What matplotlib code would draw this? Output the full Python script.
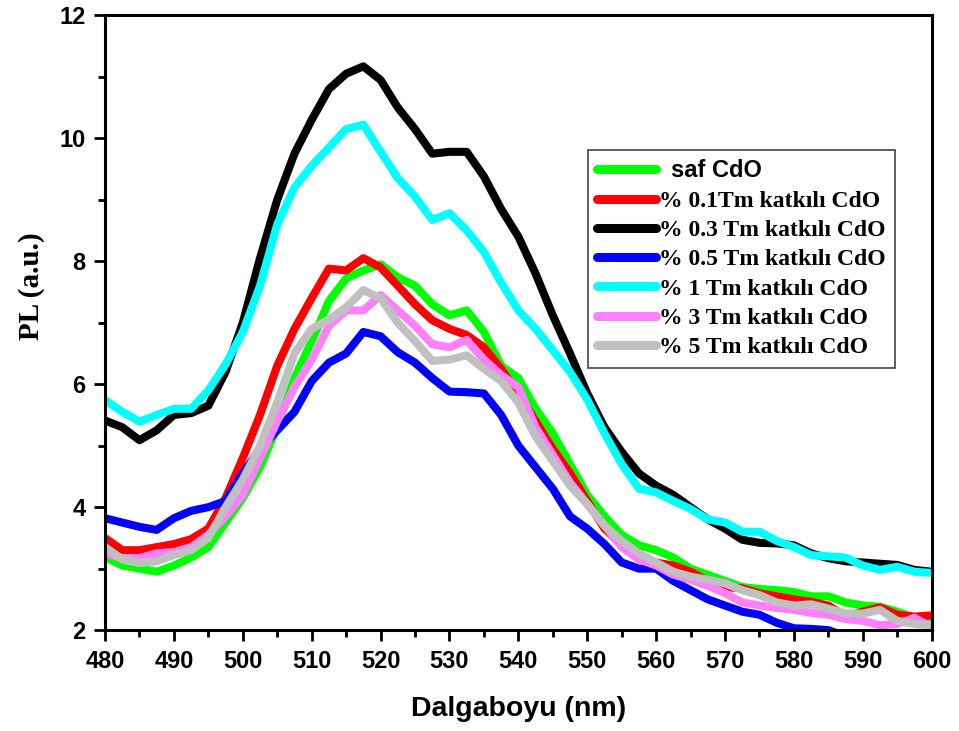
import numpy as np
import matplotlib
matplotlib.use("Agg")
import matplotlib.pyplot as plt
from matplotlib.ticker import MultipleLocator
from matplotlib import font_manager

plt.rcParams["font.family"] = ["Liberation Sans", "DejaVu Sans"]
plt.rcParams["font.weight"] = "bold"

# wavelength grid (nm)
wl = np.arange(480, 600.1, 2.5)

saf = [3.19, 3.05, 3.0, 2.95, 3.05, 3.18, 3.35, 3.75, 4.15, 4.65, 5.3, 6.1, 6.7,
       7.35, 7.72, 7.85, 7.95, 7.74, 7.6, 7.3, 7.12, 7.2, 6.85, 6.3, 6.1, 5.6,
       5.2, 4.7, 4.2, 3.85, 3.55, 3.38, 3.3, 3.18, 3.0, 2.9, 2.8, 2.7, 2.67,
       2.65, 2.62, 2.55, 2.55, 2.45, 2.4, 2.38, 2.3, 2.2, 2.16]
tm01 = [3.5, 3.3, 3.3, 3.35, 3.4, 3.48, 3.65, 4.15, 4.8, 5.5, 6.3, 6.9, 7.4,
        7.88, 7.85, 8.05, 7.9, 7.6, 7.3, 7.04, 6.9, 6.8, 6.6, 6.25, 5.85, 5.4,
        4.95, 4.55, 4.1, 3.65, 3.4, 3.15, 3.1, 3.05, 2.95, 2.8, 2.7, 2.68, 2.6,
        2.55, 2.5, 2.46, 2.4, 2.22, 2.3, 2.37, 2.25, 2.22, 2.24]
tm03 = [5.41, 5.3, 5.09, 5.25, 5.5, 5.53, 5.65, 6.2, 7.0, 8.05, 9.0, 9.75, 10.3,
        10.8, 11.05, 11.17, 10.95, 10.5, 10.15, 9.75, 9.78, 9.78, 9.38, 8.85,
        8.4, 7.8, 7.12, 6.5, 5.85, 5.3, 4.9, 4.55, 4.35, 4.2, 4.0, 3.8, 3.65,
        3.47, 3.42, 3.41, 3.38, 3.25, 3.17, 3.12, 3.1, 3.08, 3.06, 2.98, 2.95]
tm05 = [3.82, 3.75, 3.68, 3.63, 3.82, 3.94, 4.0, 4.1, 4.55, 4.95, 5.25, 5.55,
        6.05, 6.35, 6.5, 6.85, 6.78, 6.52, 6.35, 6.1, 5.88, 5.87, 5.85, 5.5,
        5.0, 4.65, 4.3, 3.85, 3.65, 3.4, 3.1, 3.0, 3.0, 2.8, 2.65, 2.5, 2.4,
        2.3, 2.25, 2.12, 2.03, 2.02, 2.0, 1.9, 1.85, 1.8, 1.8, 1.75, 1.75]
tm1 = [5.74, 5.55, 5.39, 5.5, 5.6, 5.6, 5.9, 6.32, 6.85, 7.6, 8.6, 9.2, 9.55,
       9.85, 10.15, 10.22, 9.78, 9.35, 9.05, 8.67, 8.78, 8.5, 8.15, 7.65, 7.2,
       6.9, 6.55, 6.2, 5.75, 5.2, 4.7, 4.3, 4.24, 4.1, 3.97, 3.8, 3.75, 3.6,
       3.6, 3.45, 3.35, 3.22, 3.2, 3.18, 3.05, 2.98, 3.03, 2.95, 2.93]
tm3 = [3.25, 3.17, 3.17, 3.25, 3.27, 3.35, 3.55, 3.85, 4.2, 4.8, 5.4, 5.95, 6.4,
       6.95, 7.2, 7.2, 7.45, 7.2, 6.95, 6.65, 6.6, 6.72, 6.4, 6.15, 5.95, 5.3,
       4.85, 4.4, 4.05, 3.7, 3.35, 3.15, 3.05, 2.9, 2.82, 2.72, 2.6, 2.45, 2.4,
       2.36, 2.33, 2.28, 2.25, 2.18, 2.15, 2.08, 2.1, 2.2, 2.05]
tm5 = [3.35, 3.15, 3.09, 3.12, 3.22, 3.3, 3.5, 4.0, 4.45, 5.0, 5.7, 6.5, 6.9,
       7.05, 7.25, 7.53, 7.4, 7.0, 6.7, 6.38, 6.4, 6.47, 6.25, 6.05, 5.7, 5.15,
       4.75, 4.35, 4.05, 3.7, 3.45, 3.25, 3.1, 2.95, 2.87, 2.82, 2.76, 2.65,
       2.57, 2.45, 2.4, 2.42, 2.35, 2.27, 2.27, 2.33, 2.15, 2.1, 2.08]

labels = ["saf CdO", "% 0.1Tm katkılı CdO", "% 0.3 Tm katkılı CdO",
          "% 0.5 Tm katkılı CdO", "% 1 Tm katkılı CdO", "% 3 Tm katkılı CdO",
          "% 5 Tm katkılı CdO"]
series = [saf, tm01, tm03, tm05, tm1, tm3, tm5]
colors = ["#00ff00", "#ff0000", "#000000", "#0000ff", "#00ffff", "#ff80ff", "#c0c0c0"]

fig = plt.figure(figsize=(9.59, 7.31), dpi=100)
ax = fig.add_axes([0.1095, 0.138, 0.862, 0.841])

for y, c, lab in zip(series, colors, labels):
    ax.plot(wl, y, color=c, lw=5.8, label=lab, solid_joinstyle="round",
            solid_capstyle="round")

ax.set_xlim(480, 600)
ax.set_ylim(2, 12)
ax.xaxis.set_minor_locator(MultipleLocator(5))
ax.yaxis.set_minor_locator(MultipleLocator(1))
ax.tick_params(which="major", direction="out", length=8, width=2, pad=6)
ax.tick_params(which="minor", direction="out", length=5, width=2)
for s in ax.spines.values():
    s.set_linewidth(2.2)

tick_fp = font_manager.FontProperties(family="Liberation Sans", weight="bold", size=17)
ax.set_xticks(np.arange(480, 601, 10))
ax.set_xticklabels([str(v) for v in range(480, 601, 10)], fontproperties=tick_fp)
ax.set_yticks(np.arange(2, 13, 2))
ax.set_yticklabels([str(v) for v in range(2, 13, 2)], fontproperties=tick_fp)

ax.set_xlabel("Dalgaboyu (nm)", weight="bold", size=20.5, labelpad=17)
ax.set_ylabel("PL (a.u.)", family=["Liberation Serif", "DejaVu Serif"],
              weight="bold", size=21)
ax.yaxis.set_label_coords(-0.0726, 0.559)

leg = ax.legend(loc="upper left", bbox_to_anchor=(588 / 959, 1 - 150 / 731),
                bbox_transform=fig.transFigure, borderaxespad=0, fancybox=False,
                framealpha=1, edgecolor="#444444", handlelength=2.5,
                handletextpad=0.1, labelspacing=0.33, borderpad=0.4,
                prop=dict(family=["Liberation Serif", "DejaVu Serif"],
                          weight="bold", size=17))
leg.get_frame().set_linewidth(1.2)
leg.get_texts()[0].set_fontfamily(["Liberation Sans", "DejaVu Sans"])
leg.get_texts()[0].set_position((12, 0))
for h in leg.get_lines():
    h.set_linewidth(6.5)

fig.savefig("out.png", dpi=100)
